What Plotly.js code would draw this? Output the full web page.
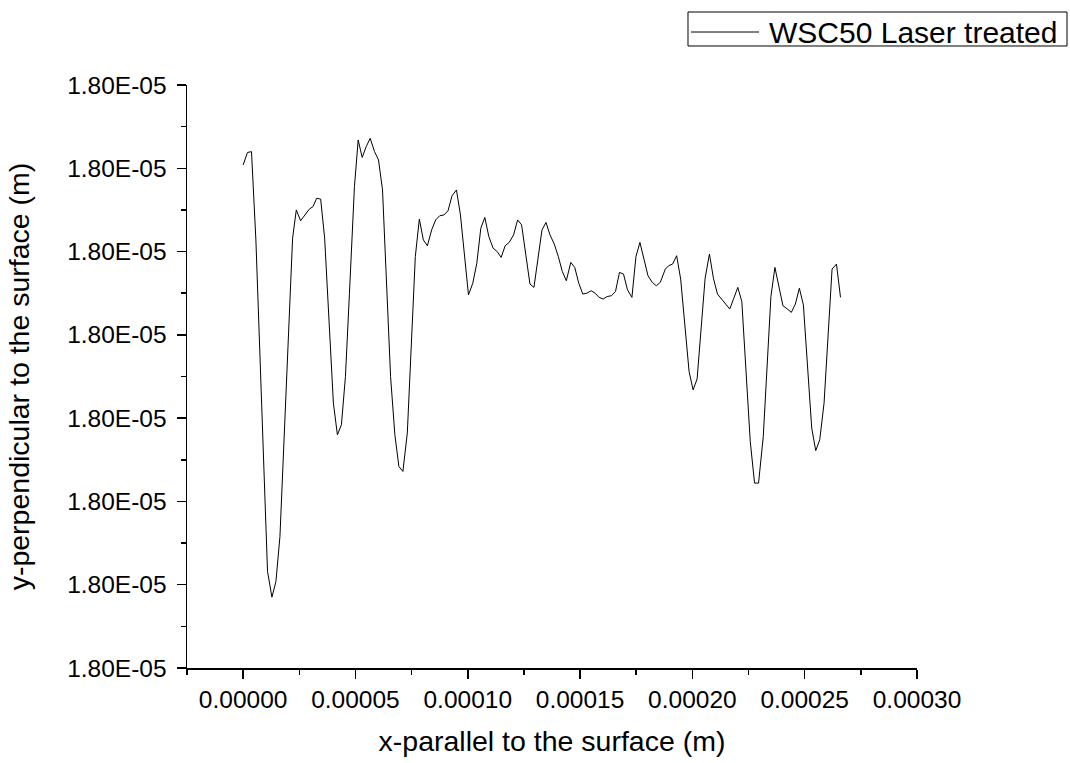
<!DOCTYPE html>
<html>
<head>
<meta charset="utf-8">
<script src="https://cdn.plot.ly/plotly-3.0.1.min.js"></script>
<style>
  html, body { margin: 0; padding: 0; background: #fff; }
  #chart { width: 1070px; height: 763px; }
</style>
</head>
<body>
<div id="chart"></div>
<script>
// x position along the surface, in micrometres (converted to metres when plotted)
const xUm = [
  0.0, 1.92, 3.71, 5.67, 10.85, 12.81, 14.60, 16.38, 22.01, 23.66,
  25.58, 27.54, 29.46, 31.12, 32.72, 34.51, 36.29, 40.18, 41.96, 43.75,
  45.54, 47.32, 49.55, 51.21, 52.99, 54.78, 56.56, 58.48, 60.27, 62.05,
  65.63, 67.54, 69.33, 71.12, 73.08, 76.65, 78.44, 80.22, 82.01, 83.93,
  85.71, 87.50, 89.42, 91.21, 92.99, 94.96, 96.74, 100.31, 102.23, 104.02,
  105.80, 107.59, 109.38, 111.29, 113.08, 114.87, 116.65, 118.44, 120.40, 122.19,
  123.97, 127.68, 129.46, 133.04, 134.82, 136.61, 138.53, 140.31, 142.10, 143.88,
  145.85, 147.63, 149.42, 151.21, 152.99, 154.91, 156.70, 158.48, 160.27, 162.05,
  163.97, 165.76, 167.54, 169.33, 171.12, 173.08, 174.87, 176.65, 178.44, 180.22,
  182.14, 183.93, 185.71, 187.95, 189.42, 191.21, 193.00, 194.78, 198.53, 200.31,
  202.10, 205.67, 207.59, 209.38, 211.16, 212.95, 214.73, 216.65, 218.44, 220.22,
  222.01, 225.76, 227.68, 229.46, 231.56, 234.96, 236.74, 238.53, 240.31, 242.28,
  244.06, 245.85, 247.63, 249.42, 253.13, 254.91, 256.70, 258.62, 262.19, 264.15,
  265.94
];
// y height, expressed in grid steps of the y axis (every grid step is labelled 1.80E-05)
const yLevel = [
  6.04, 6.19, 6.20, 5.14, 1.16, 0.85, 1.04, 1.58, 5.16, 5.50,
  5.37, 5.44, 5.51, 5.54, 5.64, 5.63, 5.16, 3.18, 2.80, 2.92,
  3.50, 4.50, 5.78, 6.34, 6.13, 6.26, 6.36, 6.20, 6.10, 5.74,
  3.50, 2.80, 2.42, 2.36, 2.82, 4.94, 5.39, 5.14, 5.07, 5.26,
  5.38, 5.43, 5.44, 5.49, 5.67, 5.74, 5.44, 4.48, 4.62, 4.86,
  5.28, 5.41, 5.18, 5.04, 5.00, 4.93, 5.07, 5.11, 5.20, 5.38,
  5.32, 4.61, 4.57, 5.26, 5.35, 5.20, 5.09, 4.94, 4.76, 4.65,
  4.87, 4.81, 4.62, 4.49, 4.50, 4.53, 4.50, 4.45, 4.43, 4.46,
  4.47, 4.52, 4.75, 4.73, 4.54, 4.45, 4.94, 5.11, 4.90, 4.71,
  4.63, 4.59, 4.63, 4.79, 4.83, 4.85, 4.95, 4.67, 3.56, 3.34,
  3.47, 4.68, 4.97, 4.68, 4.49, 4.43, 4.37, 4.31, 4.44, 4.57,
  4.40, 2.72, 2.22, 2.22, 2.78, 4.46, 4.81, 4.58, 4.35, 4.31,
  4.27, 4.37, 4.56, 4.36, 2.88, 2.61, 2.74, 3.18, 4.79, 4.85,
  4.45
];
const yTickVals = [0, 1, 2, 3, 4, 5, 6, 7];
const yTickText = ["1.80E-05", "1.80E-05", "1.80E-05", "1.80E-05", "1.80E-05", "1.80E-05", "1.80E-05", "1.80E-05"];
const seriesName = "WSC50 Laser treated";
const xTitle = "x-parallel to the surface (m)";
const yTitle = "y-perpendicular to the surface (m)";

const FONT = "Liberation Sans, Arial, sans-serif";

const trace = {
  x: xUm.map(v => v * 1e-6),
  y: yLevel,
  type: "scatter",
  mode: "lines",
  name: seriesName,
  line: { color: "#000000", width: 1 },
  showlegend: false
};

// legend box drawn in the upper-right corner (Origin style: long line sample)
const legendShapes = [
  { type: "rect", xref: "paper", yref: "paper", x0: 0.6863, x1: 1.2055, y0: 1.0669, y1: 1.1252,
    line: { color: "#000000", width: 1 }, fillcolor: "rgba(0,0,0,0)" },
  { type: "line", xref: "paper", yref: "paper", x0: 0.6904, x1: 0.7836, y0: 1.0909, y1: 1.0909,
    line: { color: "#000000", width: 1 } }
];
const legendText = {
  xref: "paper", yref: "paper", x: 0.7945, y: 1.0892, xanchor: "left", yanchor: "middle",
  text: seriesName, showarrow: false, font: { family: FONT, size: 30, color: "#000000" }
};

const layout = {
  width: 1070,
  height: 763,
  paper_bgcolor: "#ffffff",
  plot_bgcolor: "#ffffff",
  margin: { l: 187, r: 153, t: 85, b: 95, autoexpand: false },
  font: { family: FONT, color: "#000000", size: 24.5 },
  showlegend: false,
  shapes: legendShapes,
  annotations: [legendText],
  xaxis: {
    range: [-2.5e-5, 3.0e-4],
    tick0: 0, dtick: 5e-5,
    tickformat: ".5f",
    showgrid: false, zeroline: false,
    showline: true, linecolor: "#000000", linewidth: 1.5,
    ticks: "outside", ticklen: 9, tickwidth: 1.5, tickcolor: "#000000",
    tickfont: { family: FONT, size: 24.5, color: "#000000" },
    minor: { dtick: 2.5e-5, tick0: 0, ticks: "outside", ticklen: 5, tickwidth: 1.5, tickcolor: "#000000", showgrid: false },
    title: { text: xTitle, font: { family: FONT, size: 28.5, color: "#000000" }, standoff: 19 },
    fixedrange: true
  },
  yaxis: {
    range: [0, 7],
    tickmode: "array",
    tickvals: yTickVals,
    ticktext: yTickText,
    showgrid: false, zeroline: false,
    showline: true, linecolor: "#000000", linewidth: 1.5,
    ticks: "outside", ticklen: 9, tickwidth: 1.5, tickcolor: "#000000",
    ticklabelstandoff: 5,
    tickfont: { family: FONT, size: 24.5, color: "#000000" },
    minor: { dtick: 0.5, tick0: 0, ticks: "outside", ticklen: 5, tickwidth: 1.5, tickcolor: "#000000", showgrid: false },
    title: { text: yTitle, font: { family: FONT, size: 28.5, color: "#000000" }, standoff: 29 },
    fixedrange: true
  }
};

Plotly.newPlot("chart", [trace], layout, { displayModeBar: false, staticPlot: true });
</script>
</body>
</html>
